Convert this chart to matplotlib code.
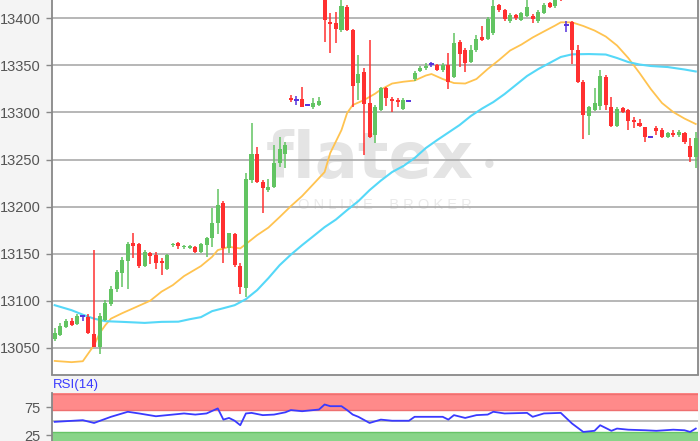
import matplotlib
matplotlib.use("Agg")
import matplotlib.pyplot as plt
import numpy as np

plt.rcParams['font.family'] = ['Liberation Sans', 'DejaVu Sans']

# ---------------- data ----------------
opens = [13058.9, 13063.4, 13072.3, 13078.3, 13075.1, 13084.0, 13082.9, 13064.5, 13051.0, 13080.1,
         13096.4, 13112.3, 13129.3, 13142.1, 13161.2, 13159.9, 13136.8, 13150.3, 13148.5, 13142.1,
         13133.6, 13158.8, 13160.9, 13156.6, 13156.2, 13157.3, 13152.0, 13159.1, 13166.8, 13182.2,
         13203.7, 13155.9, 13170.5, 13137.1, 13113.1, 13228.1, 13255.8, 13225.7, 13217.5, 13221.0,
         13245.9, 13255.8, 13315.6, 13313.1, 13313.9, 13307.9, 13305.4, 13307.9, 13425.0, 13396.4,
         13395.3, 13387.5, 13411.7, 13387.5, 13331.2, 13342.9, 13310.0, 13276.0, 13302.5, 13325.9,
         13313.9, 13313.1, 13303.6, 13312.4, 13335.5, 13344.0, 13347.2, 13351.4, 13350.4, 13345.0,
         13350.4, 13337.6, 13374.8, 13366.3, 13353.5, 13366.3, 13380.1, 13378.0, 13384.4, 13414.1,
         13408.8, 13397.1, 13403.5, 13398.2, 13402.4, 13402.4, 13397.1, 13405.6, 13416.2, 13413.0,
         13425.0, 13392.9, 13396.0, 13366.3, 13332.3, 13296.2, 13302.5, 13306.8, 13337.6, 13305.7,
         13285.6, 13304.6, 13302.5, 13291.9, 13288.7, 13284.5, 13273.9, 13283.4, 13281.3, 13273.9,
         13278.1, 13276.0, 13278.1, 13264.3, 13252.6]
highs = [13070.9, 13076.2, 13080.4, 13081.8, 13085.8, 13085.0, 13085.8, 13153.8, 13086.8, 13100.6,
         13115.5, 13132.5, 13146.7, 13162.3, 13171.8, 13161.5, 13153.8, 13152.0, 13152.0, 13145.3,
         13149.5, 13161.5, 13162.6, 13159.0, 13159.1, 13158.0, 13160.9, 13167.9, 13198.1, 13218.5,
         13205.8, 13171.8, 13171.8, 13139.6, 13235.3, 13288.4, 13263.5, 13228.1, 13228.9, 13265.3,
         13273.5, 13268.9, 13318.5, 13317.4, 13326.6, 13309.0, 13315.0, 13316.0, 13430.0, 13405.3,
         13407.0, 13420.0, 13414.1, 13388.5, 13361.0, 13347.2, 13376.9, 13307.9, 13327.0, 13326.5,
         13316.4, 13315.3, 13315.3, 13313.5, 13344.3, 13349.6, 13352.5, 13353.5, 13351.4, 13352.5,
         13363.1, 13384.4, 13376.9, 13368.4, 13371.6, 13382.2, 13391.8, 13401.4, 13420.0, 13415.2,
         13410.0, 13405.6, 13404.6, 13407.0, 13419.0, 13404.6, 13408.8, 13416.2, 13417.3, 13425.0,
         13428.0, 13397.1, 13397.1, 13371.6, 13334.4, 13306.8, 13325.9, 13345.0, 13339.6, 13316.4,
         13305.7, 13305.7, 13303.6, 13295.0, 13293.0, 13284.5, 13274.5, 13285.5, 13283.4, 13279.2,
         13281.3, 13281.3, 13279.0, 13272.8, 13279.2]
lows = [13057.4, 13062.7, 13070.9, 13073.0, 13074.1, 13078.3, 13064.2, 13050.4, 13043.3, 13079.0,
        13094.2, 13109.2, 13114.8, 13112.3, 13145.3, 13134.6, 13135.7, 13138.9, 13133.6, 13127.2,
        13132.5, 13156.6, 13154.5, 13155.5, 13155.0, 13150.9, 13150.3, 13146.7, 13156.6, 13170.8,
        13140.0, 13150.6, 13136.0, 13107.0, 13104.2, 13224.6, 13224.6, 13192.8, 13215.7, 13219.3,
        13242.3, 13240.6, 13311.4, 13307.9, 13305.4, 13306.9, 13303.3, 13306.8, 13374.8, 13362.8,
        13373.4, 13385.8, 13386.5, 13305.7, 13313.1, 13254.7, 13272.8, 13267.5, 13301.5, 13306.8,
        13300.4, 13305.7, 13303.0, 13311.5, 13333.7, 13342.6, 13345.0, 13348.5, 13344.3, 13343.3,
        13324.9, 13336.5, 13348.2, 13342.9, 13352.5, 13364.2, 13375.9, 13376.9, 13382.2, 13407.0,
        13397.1, 13395.3, 13398.2, 13397.0, 13401.0, 13395.0, 13395.0, 13404.6, 13410.9, 13411.0,
        13418.0, 13385.4, 13351.4, 13331.3, 13271.7, 13276.0, 13301.5, 13302.5, 13302.5, 13284.5,
        13284.5, 13299.4, 13281.3, 13283.4, 13284.5, 13268.5, 13273.3, 13276.0, 13273.0, 13272.8,
        13273.9, 13273.9, 13266.4, 13247.3, 13240.9]
closes = [13065.9, 13073.3, 13078.6, 13074.1, 13084.0, 13084.0, 13065.3, 13050.7, 13084.0, 13097.4,
          13112.3, 13130.4, 13143.1, 13160.2, 13158.0, 13136.8, 13151.6, 13147.4, 13140.0, 13139.9,
          13148.5, 13160.2, 13158.0, 13158.0, 13158.0, 13151.6, 13159.8, 13166.2, 13182.2, 13201.6,
          13156.0, 13171.8, 13137.9, 13114.1, 13229.2, 13255.8, 13226.4, 13219.3, 13221.0, 13245.9,
          13260.8, 13265.3, 13313.1, 13313.1, 13306.0, 13307.9, 13309.7, 13312.1, 13398.2, 13393.9,
          13388.3, 13413.0, 13387.5, 13328.0, 13340.8, 13308.9, 13273.9, 13305.7, 13325.9, 13315.3,
          13312.1, 13311.0, 13313.1, 13312.4, 13341.9, 13347.2, 13349.3, 13351.4, 13345.0, 13350.4,
          13332.3, 13373.7, 13362.1, 13352.5, 13366.3, 13378.0, 13376.9, 13399.3, 13413.0, 13408.8,
          13399.3, 13403.5, 13400.3, 13405.6, 13412.0, 13399.3, 13406.7, 13414.1, 13412.0, 13419.4,
          13420.0, 13392.9, 13366.3, 13332.3, 13297.2, 13305.7, 13309.7, 13338.7, 13307.9, 13285.6,
          13303.6, 13300.4, 13290.8, 13289.8, 13285.6, 13273.9, 13273.9, 13280.2, 13273.9, 13278.1,
          13276.0, 13279.2, 13268.5, 13252.6, 13272.8]

# moving averages (candle index, value)
ma_fast_idx = [0, 3, 5, 7, 8, 9, 10, 12, 14, 17, 19, 21, 23, 26, 28, 29, 31, 33, 34, 36, 38, 40, 42, 44,
               46, 48, 49, 51, 52, 53, 55, 57, 58, 60, 62, 64, 66, 67, 69, 71, 73, 75, 77, 79, 81, 83,
               85, 87, 89, 90, 92, 94, 96, 98, 100, 102, 104, 106, 108, 110, 112, 114]
ma_fast_val = [13036.1, 13034.8, 13035.8, 13052.8, 13065.6, 13074.1, 13081.0, 13086.8, 13092.1, 13100.1,
               13109.7, 13116.6, 13126.2, 13136.8, 13146.7, 13153.8, 13157.3, 13155.6, 13160.2, 13169.7,
               13177.7, 13188.9, 13200.5, 13211.2, 13223.9, 13236.7, 13256.9, 13281.3, 13299.4, 13307.9,
               13313.1, 13320.0, 13324.3, 13330.7, 13332.6, 13333.9, 13339.2, 13340.8, 13335.5, 13331.2,
               13330.7, 13335.5, 13346.1, 13355.6, 13365.8, 13372.1, 13379.6, 13386.0, 13392.3, 13395.7,
               13395.7, 13391.8, 13387.0, 13380.6, 13371.1, 13357.8, 13341.9, 13324.9, 13310.0, 13300.4,
               13293.5, 13287.7]
ma_slow_idx = [0, 3, 5, 7, 9, 12, 16, 19, 22, 24, 26, 28, 30, 32, 34, 36, 38, 40, 42, 44, 46, 48, 50,
               52, 54, 56, 58, 60, 62, 64, 66, 68, 70, 72, 74, 76, 78, 80, 82, 84, 86, 88, 90, 92, 95,
               98, 100, 102, 104, 106, 109, 112, 114]
ma_slow_val = [13095.3, 13090.0, 13085.2, 13081.0, 13078.3, 13077.6, 13076.5, 13077.6, 13077.8, 13080.4,
               13082.6, 13089.0, 13092.1, 13095.3, 13101.7, 13111.3, 13124.0, 13137.8, 13149.0, 13159.1,
               13168.6, 13178.2, 13186.2, 13196.3, 13205.8, 13217.5, 13227.6, 13236.7, 13243.1, 13251.5,
               13262.2, 13270.6, 13278.6, 13286.6, 13296.2, 13304.1, 13311.0, 13319.5, 13329.1, 13338.7,
               13346.1, 13352.5, 13358.9, 13361.7, 13362.0, 13361.5, 13357.8, 13353.5, 13350.9, 13349.3,
               13348.2, 13345.6, 13343.5]

rsi_idx = [0, 5, 7, 10, 12, 13, 15, 18, 21, 23, 25, 27, 29, 30, 31, 32, 33, 34, 35, 37, 39, 41, 42, 44,
           47, 48, 49, 51, 52, 53, 54, 56, 58, 60, 63, 64, 69, 70, 71, 73, 75, 77, 78, 80, 84, 85, 87,
           90, 92, 94, 96, 97, 99, 100, 102, 105, 107, 110, 112, 113, 114]
rsi_val = [49, 52, 47, 58, 64, 67, 64, 59, 62, 64, 62, 64, 73, 53, 56, 51, 43, 64, 65, 61, 62, 66, 70, 68,
           71, 80, 77, 77, 70, 62, 58, 47, 53, 51, 51, 58, 58, 53, 61, 56, 61, 62, 67, 64, 65, 58, 64,
           65, 46, 31, 33, 43, 33, 37, 35, 34, 33, 35, 34, 31, 37]

yticks_main = [13050, 13100, 13150, 13200, 13250, 13300, 13350, 13400]
yticks_rsi = [25, 75]

# ---------------- figure ----------------
W, H = 700, 441
fig = plt.figure(figsize=(W / 100, H / 100), dpi=100, facecolor='#f4f4f4')

x0, x1 = 52, 698
ax = fig.add_axes([x0 / W, 1 - 374.5 / H, (x1 - x0) / W, 374.5 / H])
ax.set_facecolor('white')

xl = (-0.48, 114.4)
ax.set_xlim(*xl)
ax.set_ylim(13021.7, 13419.4)

# watermark
ax.text(0.492, 0.572, 'flatex', transform=ax.transAxes, fontsize=46, fontweight='bold',
        color='#e4e4e4', ha='center', va='center', family='DejaVu Sans', zorder=0)
ax.text(0.677, 0.556, '•', transform=ax.transAxes, fontsize=22, color='#e2e2e2',
        ha='center', va='center', zorder=0)
ax.text(0.515, 0.453, 'O N L I N E    B R O K E R', transform=ax.transAxes, fontsize=10.5,
        color='#eaeaea', ha='center', va='center', zorder=0)

ax.set_yticks(yticks_main)
ax.grid(axis='y', color='#aaaaaa', linewidth=1.2, zorder=1)
ax.set_xticks([])
ax.tick_params(axis='y', colors='#888888', labelcolor='#555555', labelsize=10.5, length=4, width=1, pad=4)
for s in ['top']:
    ax.spines[s].set_visible(False)
for s in ['left', 'bottom', 'right']:
    ax.spines[s].set_color('#888888')
    ax.spines[s].set_linewidth(1.3)

green, red, blue = '#62c462', '#ff3030', '#5533dd'
idx = np.arange(len(opens))
o = np.array(opens); h = np.array(highs); l = np.array(lows); c = np.array(closes)
cols = np.where(c > o, green, np.where(c < o, red, blue))
ax.vlines(idx, l, h, colors=cols, linewidth=1.1, zorder=3)
body_low = np.minimum(o, c)
body_h = np.abs(c - o)
mask = body_h > 0
ax.bar(idx[mask], body_h[mask], bottom=body_low[mask], width=0.72, color=cols[mask], linewidth=0, zorder=4)
dj = ~mask
ax.hlines(c[dj], idx[dj] - 0.45, idx[dj] + 0.45, colors=blue, linewidth=1.4, zorder=4)

ax.plot(ma_fast_idx, ma_fast_val, color='#ffc350', linewidth=1.3, zorder=2)
ax.plot(ma_slow_idx, ma_slow_val, color='#55d8f8', linewidth=1.5, zorder=2)

# ---------------- RSI panel ----------------
ax2 = fig.add_axes([x0 / W, 0, (x1 - x0) / W, (H - 393.3) / H])
ax2.set_facecolor('white')
ax2.set_xlim(*xl)
ax2.set_ylim(14.8, 100)
ax2.axhspan(70, 100, color='#ff8a8a', linewidth=0, zorder=1)
ax2.axhline(70, color='#ee7070', linewidth=1, zorder=1)
ax2.axhline(99.6, color='#ee7070', linewidth=1, zorder=1)
ax2.axhspan(0, 30, color='#88d488', linewidth=0, zorder=1)
ax2.axhline(30, color='#66c466', linewidth=1, zorder=1)
ax2.axhline(50, color='#b0b0b0', linewidth=1.2, zorder=1)
ax2.plot(rsi_idx, rsi_val, color='#3a3aff', linewidth=1.3, zorder=3)
ax2.set_yticks(yticks_rsi)
ax2.set_xticks([])
ax2.tick_params(axis='y', colors='#888888', labelcolor='#555555', labelsize=10.5, length=4, width=1, pad=4)
for s in ['top', 'bottom', 'right']:
    ax2.spines[s].set_visible(False)
ax2.spines['left'].set_color('#888888')
ax2.spines['left'].set_linewidth(1.3)

fig.text(53 / W, 1 - 385 / H, 'RSI(14)', color='#3a3aff', fontsize=9.5, ha='left', va='center')

fig.savefig('out.png', dpi=100, facecolor=fig.get_facecolor())
